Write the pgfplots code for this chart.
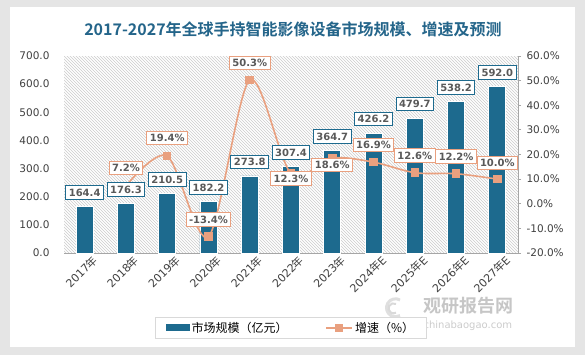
\documentclass[border=0pt]{standalone}
\usepackage{pgfplots}
\pgfplotsset{compat=1.18}
\usepackage{pgfplotstable}
\usepackage{fontspec}
\setmainfont{DejaVu Sans}
\newfontfamily\cjk{Noto Sans CJK SC}[BoldFont={Noto Sans CJK SC Bold}]
\usetikzlibrary{patterns}
\definecolor{barblue}{HTML}{1D6A8E}
\definecolor{lineor}{HTML}{E9A07F}
\definecolor{txtgray}{HTML}{595959}
\definecolor{txtdark}{HTML}{404040}
\definecolor{titleblue}{HTML}{24658A}
\definecolor{axgray}{HTML}{A6A6A6}
\pgfplotsset{/pgf/number format/assume math mode=true}
\newcommand\yr[1]{#1{\cjk 年}}
\newcommand\yrE[1]{#1{\cjk 年}E}
\pgfplotstableread{
x v
0 164.4
1 176.3
2 210.5
3 182.2
4 273.8
5 307.4
6 364.7
7 426.2
8 479.7
9 538.2
10 592.0
}\bars
\pgfplotstableread{
x g dy
1 7.2 18
2 19.4 18
3 -13.4 17
4 50.3 17
5 12.3 -5
6 18.6 -7
7 16.9 17
8 12.6 17
9 12.2 17
10 10.0 16
}\growth
\pgfplotsset{
  base/.style={at={(64pt,-253pt)}, anchor=south west, scale only axis,
    width=454pt, height=197pt, xmin=-0.5, xmax=10.5, clip=false},
  barlab/.style={nodes near coords={\pgfmathprintnumber[fixed,fixed zerofill,precision=1]{\pgfplotspointmeta}},
    every node near coord/.append style={anchor=center, yshift=14pt, draw=barblue, fill=white, text=txtgray, font=\bfseries\fontsize{10}{12}\selectfont, line width=1pt, inner sep=3pt}},
}
\begin{document}
\begin{tikzpicture}
\useasboundingbox (0pt,0pt) rectangle (585pt,-355pt);
\fill[gray!20] (0pt,0pt) rectangle (585pt,-355pt);
\fill[white] (10pt,-7pt) rectangle (575pt,-347pt);
\node[font=\cjk\bfseries\fontsize{16}{18}\selectfont, text=titleblue] at (293pt,-29pt) {2017-2027年全球手持智能影像设备市场规模、增速及预测};
% watermark
\draw[gray!25, line width=3pt] (400pt,-300pt) arc (60:300:9pt);
\draw[gray!30, line width=2pt] (396pt,-304pt) arc (60:300:5pt);
\node[font=\cjk\bfseries\fontsize{18}{20}\selectfont, text=gray!45, anchor=west] at (420pt,-306pt) {观研报告网};
\node[font=\fontsize{10}{12}\selectfont, text=gray!40, anchor=west] at (420pt,-326pt) {chinabaogao.com};
\begin{axis}[base, ymin=0, ymax=700,
  axis x line*=bottom, axis y line*=left,
  axis line style={-},
  x axis line style={axgray, line width=0.8pt},
  y axis line style={draw=none},
  xtick={0,...,10},
  xticklabels={\yr{2017},\yr{2018},\yr{2019},\yr{2020},\yr{2021},\yr{2022},\yr{2023},\yrE{2024},\yrE{2025},\yrE{2026},\yrE{2027}},
  xticklabel style={rotate=45, anchor=north east, font=\fontsize{11}{12}\selectfont, text=txtdark, inner sep=1pt, yshift=-5pt, xshift=5pt},
  ytick={0,100,...,700},
  yticklabel style={/pgf/number format/fixed, /pgf/number format/fixed zerofill, /pgf/number format/precision=1, font=\fontsize{10.5}{12}\selectfont, text=txtdark, xshift=-11pt},
  tick style={draw=none},
  axis background/.style={pattern=north west lines, pattern color=gray!40},
]
\addplot[ybar, bar width=17pt, fill=barblue, draw=white, line width=0.8pt]
  table[x=x, y=v] {\bars};
\end{axis}
\begin{axis}[base, ymin=-20, ymax=60,
  axis y line*=right, axis x line=none,
  axis line style={-},
  y axis line style={axgray, line width=0.8pt},
  ytick={-20,-10,...,60},
  yticklabel={\pgfmathprintnumber[fixed,fixed zerofill,precision=1]{\tick}\%},
  yticklabel style={font=\fontsize{10.5}{12}\selectfont, text=txtdark, xshift=2pt},
  ytick style={axgray, line width=0.8pt}, tick align=outside, major tick length=3pt,
  legend style={at={(0.5,-0.38)}, anchor=center, legend columns=2, draw=gray!30, line width=0.8pt,
    font=\cjk\fontsize{12}{14}\selectfont, inner xsep=10pt, inner ysep=3pt,
    /tikz/every even column/.append style={column sep=36pt}},
  legend cell align=left,
]
\addlegendimage{legend image code/.code={\fill[barblue] (0pt,-3pt) rectangle (23pt,3pt);}}
\addlegendentry{市场规模（亿元）}
\addplot[lineor, line width=1.6pt, smooth, mark=square*, mark size=3.5pt, mark options={fill=lineor, draw=lineor},
  legend image code/.code={\draw[lineor, line width=1.6pt] (0pt,0pt) -- (26pt,0pt); \fill[lineor] (9pt,-3.5pt) rectangle (16pt,3.5pt);}]
  table[x=x, y=g] {\growth};
\addlegendentry{增速（\%）}
\end{axis}
% bar labels on top of the line
\begin{axis}[base, ymin=0, ymax=700, hide axis]
\addplot[ybar, bar width=17pt, draw=none, fill=none, barlab]
  table[x=x, y=v] {\bars};
\end{axis}
% growth labels
\begin{axis}[base, ymin=-20, ymax=60, hide axis]
\addplot[draw=none, mark=none,
  nodes near coords={\pgfmathprintnumber[fixed,fixed zerofill,precision=1]{\pgfplotspointmeta}\%},
  visualization depends on={\thisrow{dy} \as \dy},
  every node near coord/.append style={anchor=center, yshift=\dy pt, draw=lineor, fill=white, text=txtgray, font=\bfseries\fontsize{10}{12}\selectfont, line width=1pt, inner sep=3pt}]
  table[x=x, y=g] {\growth};
\end{axis}
\end{tikzpicture}
\end{document}
